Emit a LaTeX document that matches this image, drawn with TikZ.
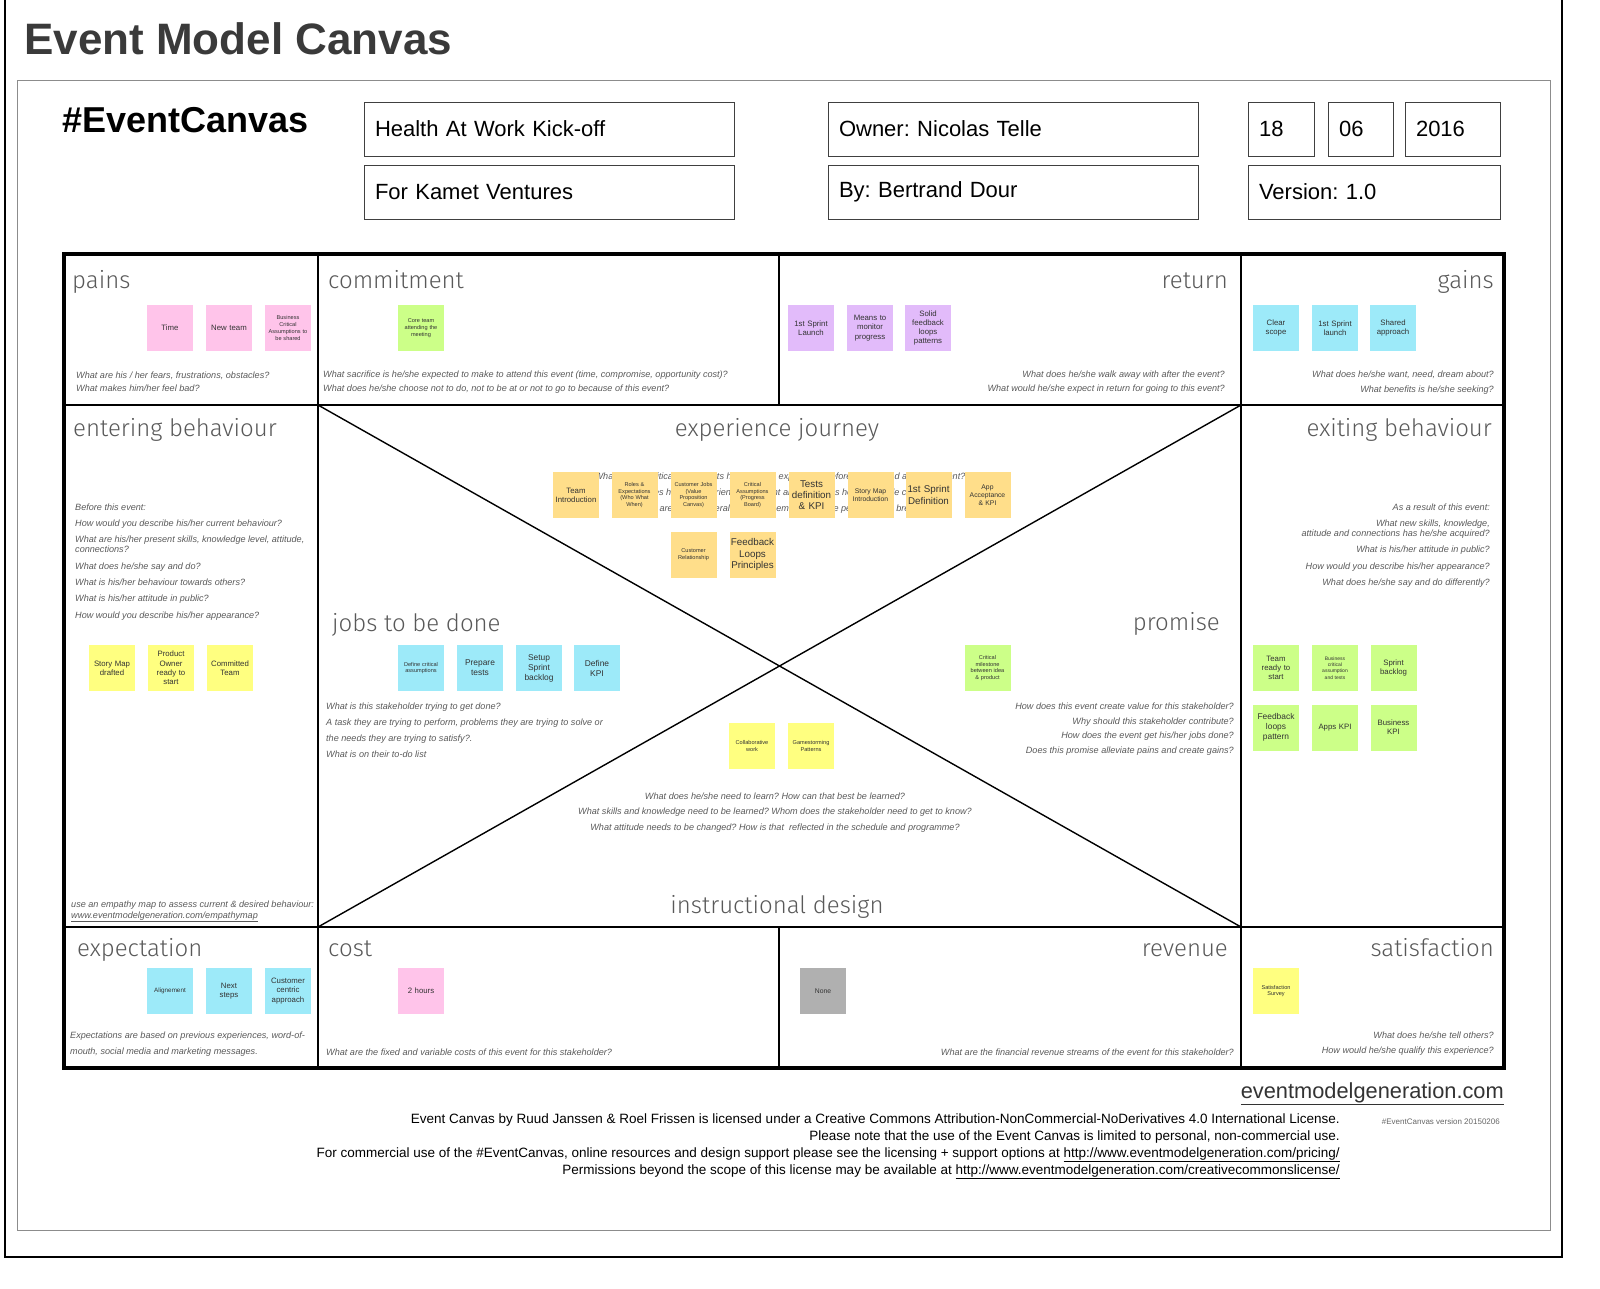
\documentclass[tikz,border=0pt]{standalone}
\usepackage{fontspec}
\setmainfont{Liberation Sans}
\IfFontExistsTF{Fira Sans Light}
  {\newfontfamily\lightfont{Fira Sans Light}}
  {\newfontfamily\lightfont{Liberation Sans}}
\frenchspacing

\definecolor{titlegray}{HTML}{3A3A3A}
\definecolor{notepink}{HTML}{FFC4EA}
\definecolor{notegreen}{HTML}{CCFF88}
\definecolor{notepurple}{HTML}{E2BBFA}
\definecolor{notecyan}{HTML}{9DEAF9}
\definecolor{noteorange}{HTML}{FFDE8A}
\definecolor{noteyellow}{HTML}{FFFF80}
\definecolor{notegray}{HTML}{B0B0B0}

\begin{document}
\begin{tikzpicture}[x=1pt,y=-1pt,
    note/.style={
% The shape:
rectangle, fill=#1,
% The size:
minimum height=46pt, text width=44pt, inner sep=1pt,
% The text:
align=center, text=black!80, font=\fontsize{7.8}{9.2}\selectfont,
},
    tiny note/.style={font=\fontsize{5.6}{6.8}\selectfont},
    big note/.style={font=\fontsize{9.8}{11.2}\selectfont},
    field/.style={
% The shape:
rectangle,
% The size:
minimum height=54pt, text width=#1, inner xsep=11pt,
% The border:
draw=black!75, line width=0.8pt,
% The text:
align=left, font=\fontsize{22}{24}\selectfont,
},
    heading/.style={inner sep=0pt, text=black!65, font=\fontsize{24}{28}\selectfont\lightfont},
    ask/.style={inner sep=0pt, text=black!65, font=\fontsize{9.1}{#1}\selectfont\itshape},
    ask/.default=13,
    cell/.style={line width=2pt},
]
  \useasboundingbox (0,0) rectangle (1600,1289);

  % frames
  \draw[line width=1.5pt] (5,0) -- (5,1257) -- (1562,1257) -- (1562,0);
  \draw[black!45, line width=0.8pt] (17,80) rectangle (1550,1230);

  % header
  \node[anchor=base west, inner sep=0pt, text=titlegray,
    font=\fontsize{44}{48}\selectfont\bfseries]   (title) at (24,55) {Event Model Canvas};
  \node[anchor=base west, inner sep=0pt,
    font=\fontsize{36}{40}\selectfont\bfseries]   (tag) at (62,133) {\#EventCanvas};
  \node[field=348pt]                          (event) at (549,129) {Health At Work Kick-off};
  \node[field=348pt]                          (client) at (549,192) {For Kamet Ventures};
  \node[field=348pt]                          (owner) at (1013,129) {Owner: Nicolas Telle};
  \node[field=348pt]                          (author) at (1013,192) {By: Bertrand Dour};
  \node[field=44pt]                           (day) at (1281,129) {18};
  \node[field=43pt]                           (month) at (1360.5,129) {06};
  \node[field=73pt]                           (year) at (1452.5,129) {2016};
  \node[field=230pt]                          (version) at (1374,192) {Version: 1.0};

  % canvas grid
  \coordinate (tl) at (318,405);
  \coordinate (tr) at (1241,405);
  \coordinate (bl) at (318,927);
  \coordinate (br) at (1241,927);
  \draw[cell] (64,405) -- (1504,405);
  \draw[cell] (64,927) -- (1504,927);
  \draw[cell] (318,254) -- (318,1068);
  \draw[cell] (1241,254) -- (1241,1068);
  \draw[cell] (779,254) -- (779,405);
  \draw[cell] (779,927) -- (779,1068);
  \draw[line width=1.4pt] (tl) -- (br);
  \draw[line width=1.4pt] (tr) -- (bl);
  \draw[line width=4pt] (64,254) rectangle (1504,1068);

  % headings
  \node[heading, anchor=base west]  (pains) at (72,288) {pains};
  \node[heading, anchor=base west]  (commitment) at (328,288) {commitment};
  \node[heading, anchor=base east]  (return) at (1228,288) {return};
  \node[heading, anchor=base east]  (gains) at (1494,288) {gains};
  \node[heading, anchor=base west]  (entering) at (73,436) {entering behaviour};
  \node[heading, anchor=base]       (journey) at (777,436) {experience journey};
  \node[heading, anchor=base east]  (exiting) at (1492,436) {exiting behaviour};
  \node[heading, anchor=base west]  (jobs) at (332,631) {jobs to be done};
  \node[heading, anchor=base east]  (promise) at (1220,630) {promise};
  \node[heading, anchor=base]       (design) at (777,913) {instructional design};
  \node[heading, anchor=base west]  (expectation) at (77,956) {expectation};
  \node[heading, anchor=base west]  (cost) at (328,956) {cost};
  \node[heading, anchor=base east]  (revenue) at (1228,956) {revenue};
  \node[heading, anchor=base east]  (satisfaction) at (1494,956) {satisfaction};

  % questions
  \node[ask, anchor=north west, align=left]  (q-pains) at (76,371.5)
  {What are his / her fears, frustrations, obstacles?\\What makes him/her feel bad?};
  \node[ask=14, anchor=north west, align=left]  (q-commitment) at (323,370.5)
  {What sacrifice is he/she expected to make to attend this event (time, compromise, opportunity cost)?\\
   What does he/she choose not to do, not to be at or not to go to because of this event?};
  \node[ask=14, anchor=north east, align=right]  (q-return) at (1225,370.5)
  {What does he/she walk away with after the event?\\What would he/she expect in return for going to this event?};
  \node[ask=15, anchor=north east, align=right]  (q-gains) at (1494,370.5)
  {What does he/she want, need, dream about?\\What benefits is he/she seeking?};
  \node[ask=16.3, anchor=north west, align=left]  (q-entering) at (75,503.5)
  {Before this event:\\How would you describe his/her current behaviour?\\
   What are his/her present skills, knowledge level, attitude,\\[-6.3pt]connections?\\
   What does he/she say and do?\\What is his/her behaviour towards others?\\
   What is his/her attitude in public?\\How would you describe his/her appearance?};
  \node[ask=16.3, anchor=north east, align=right]  (q-exiting) at (1490,503.5)
  {As a result of this event:\\What new skills, knowledge,\\[-6.3pt]attitude and connections has he/she acquired?\\
   What is his/her attitude in public?\\How would you describe his/her appearance?\\
   What does he/she say and do differently?};
  \node[ask=16, anchor=north, align=center] (q-journey) at (780,472.5)
  {What are the critical touchpoints he/she does experience before, during and after the event?\\
   How does he/she experience the event and how does he/she handle change?\\
   What are his/her overall gains and emotions at the peak and the break?};
  \node[ask=16, anchor=north west, align=left]  (q-jobs) at (326,702.5)
  {What is this stakeholder trying to get done?\\
   A task they are trying to perform, problems they are trying to solve or\\
   the needs they are trying to satisfy?.\\What is on their to-do list};
  \node[ask=14.7, anchor=north east, align=right]  (q-promise) at (1234,702.5)
  {How does this event create value for this stakeholder?\\Why should this stakeholder contribute?\\
   How does the event get his/her jobs done?\\Does this promise alleviate pains and create gains?};
  \node[ask=15.5, anchor=north, align=center]  (q-design) at (775,792.5)
  {What does he/she need to learn? How can that best be learned?\\
   What skills and knowledge need to be learned? Whom does the stakeholder need to get to know?\\
   What attitude needs to be changed? How is that~ reflected in the schedule and programme?};
  \node[ask=11, anchor=north west, align=left]  (q-empathy) at (71,900.5)
  {use an empathy map to assess current \& desired behaviour:\\
   \underline{www.eventmodelgeneration.com/empathymap}};
  \node[ask=16, anchor=north west, align=left]  (q-expectation) at (70,1031.5)
  {Expectations are based on previous experiences, word-of-\\mouth, social media and marketing messages.};
  \node[ask, anchor=north west]  (q-cost) at (326,1048.5)
  {What are the fixed and variable costs of this event for this stakeholder?};
  \node[ask, anchor=north east]  (q-revenue) at (1234,1048.5)
  {What are the financial revenue streams of the event for this stakeholder?};
  \node[ask=15, anchor=north east, align=right]  (q-satisfaction) at (1494,1031.5)
  {What does he/she tell others?\\How would he/she qualify this experience?};

  % sticky notes
  \node[note=notepink]                  (time) at (170,328) {Time};
  \node[note=notepink]                  (newteam) at (229,328) {New team};
  \node[note=notepink, tiny note]       (business) at (288,328) {Business\\Critical\\Assumptions to\\be shared};
  \node[note=notegreen, tiny note]      (coreteam) at (421,328) {Core team\\attending the\\meeting};
  \node[note=notepurple]                (launch) at (811,328) {1st Sprint\\Launch};
  \node[note=notepurple]                (monitor) at (870,328) {Means to\\monitor\\progress};
  \node[note=notepurple]                (loops) at (928,328) {Solid\\feedback\\loops\\patterns};
  \node[note=notecyan]                  (scope) at (1276,328) {Clear\\scope};
  \node[note=notecyan]                  (sprint) at (1335,328) {1st Sprint\\launch};
  \node[note=notecyan]                  (shared) at (1393,328) {Shared\\approach};

  \node[note=noteorange]                (intro) at (576,495) {Team\\Introduction};
  \node[note=noteorange, tiny note]     (roles) at (634.5,495) {Roles \&\\Expectations\\(Who What\\When)};
  \node[note=noteorange, tiny note]     (custjobs) at (693.5,495) {Customer Jobs\\(Value\\Proposition\\Canvas)};
  \node[note=noteorange, tiny note]     (critical) at (752.5,495) {Critical\\Assumptions\\(Progress\\Board)};
  \node[note=noteorange, big note]      (tests) at (811.5,495) {Tests\\definition\\\& KPI};
  \node[note=noteorange, font=\fontsize{6.8}{8}\selectfont] (storymap) at (870.5,495) {Story Map\\Introduction};
  \node[note=noteorange, big note]      (definition) at (928.5,495) {1st Sprint\\Definition};
  \node[note=noteorange, font=\fontsize{6.8}{8}\selectfont] (acceptance) at (987.5,495) {App\\Acceptance\\\& KPI};
  \node[note=noteorange, tiny note]     (relation) at (693.5,554.5) {Customer\\Relationship};
  \node[note=noteorange, big note]      (principles) at (752.5,554.5) {Feedback\\Loops\\Principles};

  \node[note=noteyellow]                (drafted) at (112,668) {Story Map\\drafted};
  \node[note=noteyellow]                (po) at (171,668) {Product\\Owner\\ready to\\start};
  \node[note=noteyellow]                (committed) at (230,668) {Committed\\Team};

  \node[note=notecyan, tiny note]       (assume) at (421,668) {Define critical\\assumptions};
  \node[note=notecyan, font=\fontsize{8.4}{10}\selectfont] (prepare) at (480,668) {Prepare\\tests};
  \node[note=notecyan, font=\fontsize{8.4}{10}\selectfont] (backlog) at (539,668) {Setup\\Sprint\\backlog};
  \node[note=notecyan, font=\fontsize{8.4}{10}\selectfont] (kpi) at (597,668) {Define\\KPI};

  \node[note=notegreen, tiny note]      (milestone) at (987.5,668) {Critical\\milestone\\between idea\\\& product};

  \node[note=noteyellow, tiny note]     (collab) at (752,746) {Collaborative\\work};
  \node[note=noteyellow, tiny note]     (gamestorm) at (811,746) {Gamestorming\\Patterns};

  \node[note=notegreen]                 (ready) at (1276,668) {Team\\ready to\\start};
  \node[note=notegreen, font=\fontsize{5}{6.2}\selectfont] (bizcrit) at (1335,668) {Business\\critical\\assumption\\and tests};
  \node[note=notegreen]                 (sbacklog) at (1393.5,668) {Sprint\\backlog};
  \node[note=notegreen, font=\fontsize{8.4}{10}\selectfont] (pattern) at (1276,727.5) {Feedback\\loops\\pattern};
  \node[note=notegreen]                 (appkpi) at (1335,727.5) {Apps KPI};
  \node[note=notegreen]                 (bizkpi) at (1393.5,727.5) {Business\\KPI};

  \node[note=notecyan, font=\fontsize{6.3}{7.5}\selectfont] (align) at (170,991) {Alignement};
  \node[note=notecyan]                  (next) at (229,991) {Next\\steps};
  \node[note=notecyan]                  (centric) at (288,991) {Customer\\centric\\approach};
  \node[note=notepink]                  (hours) at (421,991) {2 hours};
  \node[note=notegray, font=\fontsize{6.8}{8}\selectfont] (none) at (823,991) {None};
  \node[note=noteyellow, tiny note]     (survey) at (1276,991) {Satisfaction\\Survey};

  % footer
  \node[anchor=base east, inner sep=0pt, text=black!80,
    font=\fontsize{21.8}{24}\selectfont]      (site) at (1504,1098) {\underline{eventmodelgeneration.com}};
  \node[anchor=north east, align=right, inner sep=0pt,
    font=\fontsize{13.5}{16.7}\selectfont]    (licence) at (1340,1114)
  {Event Canvas by Ruud Janssen \& Roel Frissen is licensed under a Creative Commons Attribution-NonCommercial-NoDerivatives 4.0 International License.\\
   Please note that the use of the Event Canvas is limited to personal, non-commercial use.\\
   For commercial use of the \#EventCanvas, online resources and design support please see the licensing + support options at \underline{http://www.eventmodelgeneration.com/pricing/}\\
   Permissions beyond the scope of this license may be available at \underline{http://www.eventmodelgeneration.com/creativecommonslicense/}};
  \node[anchor=base east, inner sep=0pt, text=black!60,
    font=\fontsize{8}{9}\selectfont]          (release) at (1500,1124) {\#EventCanvas version 20150206};

\end{tikzpicture}
\end{document}
